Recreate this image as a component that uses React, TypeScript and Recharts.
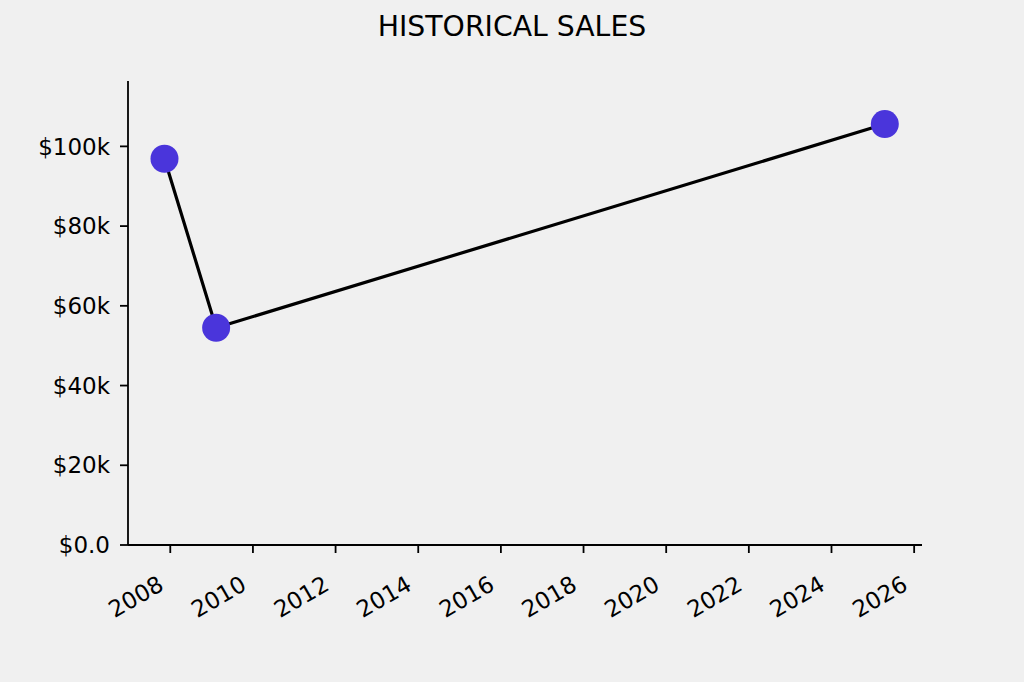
import { LineChart, Line, XAxis, YAxis } from 'recharts';

// decimal years
const years = [2007.86, 2009.11, 2025.29];
const sales = [96900, 54500, 105600];
const yearTicks = [2008, 2010, 2012, 2014, 2016, 2018, 2020, 2022, 2024, 2026];
const salesTicks = [0, 20000, 40000, 60000, 80000, 100000];

const data = years.map((year, i) => ({ year, sales: sales[i] }));

const FONT = '"DejaVu Sans", sans-serif';

const fmtMoney = (v: number) => (v === 0 ? '$0.0' : `$${Math.round(v / 1000)}k`);

function YearTick({ x, y, payload }: any) {
  return (
    <text
      transform={`translate(${x - 5}, ${y + 34}) rotate(-30)`}
      textAnchor="end"
      fontSize={23}
      fontFamily={FONT}
      fill="#000"
    >
      {payload.value}
    </text>
  );
}

export default function App() {
  return (
    <div
      style={{
        position: 'absolute',
        left: 0,
        top: 0,
        width: 1024,
        height: 682,
        background: '#f0f0f0',
        fontFamily: FONT,
      }}
    >
      <svg
        width={1024}
        height={60}
        style={{ position: 'absolute', left: 0, top: 0, pointerEvents: 'none' }}
      >
        <text x={512} y={36} textAnchor="middle" fontSize={28.3} fontFamily={FONT} fill="#000">
          HISTORICAL SALES
        </text>
      </svg>
      <LineChart
        width={1024}
        height={682}
        data={data}
        margin={{ top: 81, right: 102, left: 0, bottom: 0 }}
      >
        <XAxis
          dataKey="year"
          type="number"
          domain={[2006.977, 2026.19]}
          ticks={yearTicks}
          allowDataOverflow
          height={137}
          tickSize={8}
          stroke="#000"
          strokeWidth={1.8}
          tick={<YearTick />}
          interval={0}
        />
        <YAxis
          type="number"
          domain={[0, 116400]}
          ticks={salesTicks}
          allowDataOverflow
          width={128}
          tickSize={8}
          tickMargin={10}
          stroke="#000"
          strokeWidth={1.8}
          tickFormatter={fmtMoney}
          tick={{ fontSize: 23, fontFamily: FONT, fill: '#000' }}
          interval={0}
        />
        <Line
          dataKey="sales"
          type="linear"
          stroke="#000"
          strokeWidth={3.2}
          dot={{ r: 14, fill: '#4a35db', stroke: 'none', fillOpacity: 1 }}
          isAnimationActive={false}
        />
      </LineChart>
    </div>
  );
}
